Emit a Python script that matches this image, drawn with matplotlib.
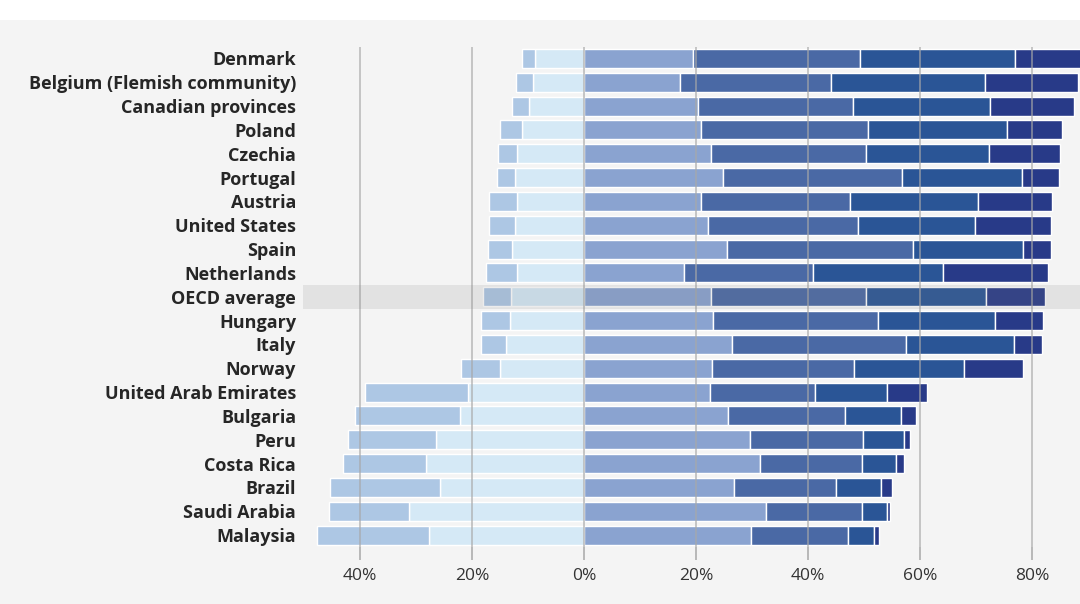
import numpy as np
import matplotlib
matplotlib.use("Agg")
import matplotlib.pyplot as plt
from matplotlib.patches import Rectangle
from matplotlib.ticker import FuncFormatter

# Data
countries = ["Denmark", "Belgium (Flemish community)", "Canadian provinces", "Poland",
             "Czechia", "Portugal", "Austria", "United States", "Spain", "Netherlands",
             "OECD average", "Hungary", "Italy", "Norway", "United Arab Emirates",
             "Bulgaria", "Peru", "Costa Rica", "Brazil", "Saudi Arabia", "Malaysia"]

# left side (drawn as negative): inner segment next to 0, outer segment beyond it
neg_inner = [8.75, 9.2, 9.8, 11.1, 12.0, 12.4, 12.0, 12.4, 12.8, 12.0, 13.0,
             13.2, 13.9, 15.0, 20.8, 22.2, 26.4, 28.2, 25.7, 31.3, 27.7]
neg_outer = [2.3, 2.9, 3.0, 3.9, 3.4, 3.2, 4.9, 4.5, 4.4, 5.5, 5.0,
             5.2, 4.5, 7.0, 18.3, 18.8, 15.7, 14.9, 19.6, 14.3, 20.0]

# right side, four stacked segments
pos1 = [19.5, 17.1, 20.3, 20.9, 22.6, 24.8, 20.9, 22.1, 25.5, 17.9, 22.6,
        23.1, 26.4, 22.9, 22.5, 25.8, 29.6, 31.5, 26.8, 32.5, 29.9]
pos2 = [29.8, 27.1, 27.8, 29.9, 27.7, 32.0, 26.6, 26.8, 33.3, 23.0, 27.7,
        29.5, 31.2, 25.4, 18.8, 20.9, 20.2, 18.2, 18.2, 17.1, 17.3]
pos3 = [27.6, 27.5, 24.5, 24.7, 22.1, 21.5, 22.9, 21.0, 19.6, 23.3, 21.5,
        20.8, 19.2, 19.6, 12.8, 9.9, 7.4, 6.1, 8.0, 4.5, 4.6]
pos4 = [12.0, 16.5, 14.9, 9.9, 12.6, 6.6, 13.2, 13.5, 5.0, 18.6, 10.6,
        8.6, 5.1, 10.6, 7.1, 2.7, 1.0, 1.4, 2.0, 0.6, 0.9]

neg_colors = ["#d5e9f6", "#adc7e4"]
pos_colors = ["#8aa3d0", "#4a69a5", "#2a5596", "#283a88"]
grid_col = "#a8a8a8"
bg = "#f4f4f4"

fig = plt.figure(figsize=(10.8, 6.04), dpi=100, facecolor=bg)
# thin white strip along the top
fig.patches.append(Rectangle((0, 1 - 20 / 604), 1, 20 / 604, transform=fig.transFigure,
                             facecolor="white", edgecolor="none"))

ax = fig.add_axes([303 / 1080, 1 - 547 / 604, 1 - 303 / 1080, (547 - 47) / 604])
ax.set_facecolor(bg)

y = np.arange(len(countries))
h = 0.8
ni = np.array(neg_inner)
no = np.array(neg_outer)

ax.barh(y, -ni, height=h, color=neg_colors[0], edgecolor="white", linewidth=1, zorder=2)
ax.barh(y, -no, left=-ni, height=h, color=neg_colors[1], edgecolor="white", linewidth=1, zorder=2)

left = np.zeros(len(countries))
for vals, c in zip([pos1, pos2, pos3, pos4], pos_colors):
    ax.barh(y, vals, left=left, height=h, color=c, edgecolor="white", linewidth=1, zorder=2)
    left = left + np.array(vals)

# highlight row for the OECD average
oi = countries.index("OECD average")
ax.axhspan(oi - 0.5, oi + 0.5, color="#808080", alpha=0.15, linewidth=0, zorder=4)

# vertical gridlines over the bars
ticks = [-40, -20, 0, 20, 40, 60, 80]
for t in ticks:
    ax.axvline(t, color=grid_col, linewidth=1.1, alpha=0.8, zorder=3)

ax.set_xlim(-50.2, 88.6)
ax.set_ylim(len(countries) - 0.5, -0.48)
ax.set_xticks(ticks)
ax.xaxis.set_major_formatter(FuncFormatter(lambda v, p: "{:d}%".format(int(abs(round(v))))))
ax.set_yticks(y)
ax.set_yticklabels(countries, fontfamily="Open Sans", fontweight="bold", fontsize=13,
                   color="#262626")
ax.tick_params(axis="y", length=0, pad=5)
ax.tick_params(axis="x", length=9, color=grid_col, width=1.1, pad=6,
               labelsize=12.5, labelcolor="#333333")
for lab in ax.get_xticklabels():
    lab.set_fontfamily("Open Sans")
for s in ax.spines.values():
    s.set_visible(False)

fig.savefig("out.png", dpi=100, facecolor=fig.get_facecolor())
